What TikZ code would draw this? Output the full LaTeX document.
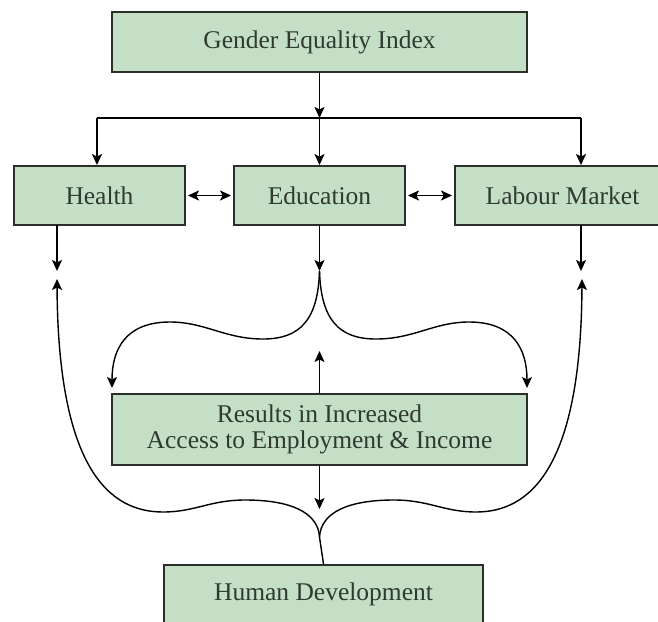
\documentclass[tikz,border=0pt]{standalone}
\usepackage{fontspec}
\setmainfont{Liberation Serif}
\usetikzlibrary{arrows.meta}
\definecolor{boxfill}{HTML}{C4DFC6}
\definecolor{boxline}{HTML}{2A2F2A}
\definecolor{txt}{HTML}{2F3A30}
\tikzset{
  box/.style={draw=boxline, line width=1.9pt, fill=boxfill, text=txt, inner sep=0pt,
    font=\fontsize{25.5}{26.5}\selectfont, align=center},
  tip/.style={-{Stealth[length=11pt,width=10pt,inset=2.5pt]}},
  arr/.style={line width=1.6pt, tip},
  darr/.style={line width=1.6pt, {Stealth[length=11pt,width=10pt,inset=2.5pt]}-{Stealth[length=11pt,width=10pt,inset=2.5pt]}},
  curve/.style={line width=1.4pt},
  ln/.style={line width=1.6pt}
}
\begin{document}
\begin{tikzpicture}[x=1pt,y=-1pt]
\useasboundingbox[fill=white] (0,0) rectangle (658,621);
% boxes
\node[box, minimum width=415pt, minimum height=60pt] (gei) at (319.5,42) {Gender Equality Index};
\node[box, minimum width=171pt, minimum height=59pt] (health) at (99.5,195.5) {Health};
\node[box, minimum width=171pt, minimum height=59pt] (edu) at (319.5,195.5) {Education};
\node[box, minimum width=215pt, minimum height=59pt] (lab) at (562.5,195.5) {Labour Market};
\node[box, minimum width=415pt, minimum height=71pt] (res) at (319.5,429.5) {Results in Increased\\Access to Employment \& Income};
\node[box, minimum width=319pt, minimum height=58pt] (hd) at (323.5,594) {Human Development};
% top distribution
\coordinate (j) at (319.5,118);
\coordinate (jl) at (97,118);
\coordinate (jr) at (581,118);
\draw[arr] (gei.south) -- (j);
\draw[ln] (jl) -- (jr);
\draw[arr] (jl) -- (jl |- health.north);
\draw[arr] (j) -- (edu.north);
\draw[arr] (jr) -- (jr |- lab.north);
\draw[darr, shorten <=2pt, shorten >=2pt] (health.east) -- (edu.west);
\draw[darr, shorten <=2pt, shorten >=2pt] (edu.east) -- (lab.west);
% down arrows from the three boxes
\coordinate (hb) at (57,225);
\coordinate (ht) at (57,271);
\coordinate (lb) at (581,225);
\coordinate (lt) at (581,271);
\coordinate (et) at (319.5,271);
\draw[arr] (hb) -- (ht);
\draw[arr] (edu.south) -- (et);
\draw[arr] (lb) -- (lt);
% upper brace
\coordinate (uc) at (319.5,271);
\coordinate (ul) at (112,388);
\coordinate (ur) at (527,388);
\draw[curve, tip] (uc) .. controls (318,320) and (300,339) .. (263,339)
  .. controls (225,339) and (205,322) .. (170,322)
  .. controls (125,322) and (112,350) .. (ul);
\draw[curve, tip] (uc) .. controls (321,320) and (339,339) .. (376,339)
  .. controls (414,339) and (434,322) .. (469,322)
  .. controls (514,322) and (527,350) .. (ur);
% results arrows
\coordinate (rt) at (319.5,351);
\coordinate (rb) at (319.5,509);
\draw[arr] (res.north) -- (rt);
\draw[arr] (res.south) -- (rb);
% lower brace
\coordinate (lc) at (319.5,537);
\coordinate (al) at (57,279);
\coordinate (ar) at (582,279);
\draw[curve] (hd.north) -- (lc);
\draw[curve, tip] (lc) .. controls (318,512) and (290,500) .. (245,500)
  .. controls (210,500) and (195,512) .. (163,512)
  .. controls (110,512) and (58,470) .. (al);
\draw[curve, tip] (lc) .. controls (321,512) and (349,500) .. (394,500)
  .. controls (429,500) and (444,512) .. (476,512)
  .. controls (529,512) and (581,470) .. (ar);
\end{tikzpicture}
\end{document}
